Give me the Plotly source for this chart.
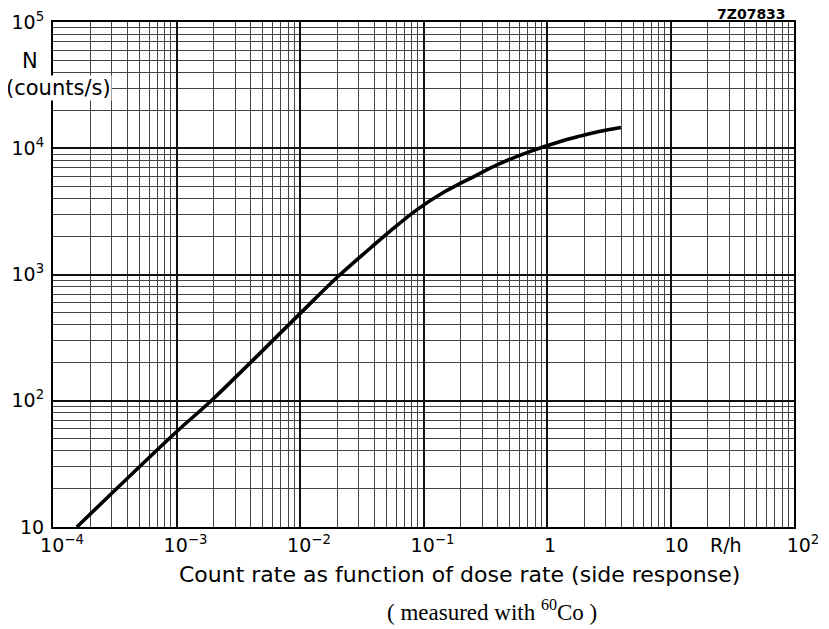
import plotly.graph_objects as go

# Curve (dose rate in R/h, count rate in counts/s)
dose_rate = [1.56e-4, 1.0e-3, 1.91e-3, 1.0e-2, 2.01e-2, 3.74e-2, 5.43e-2, 8.93e-2,
             0.147, 0.258, 0.398, 0.714, 1.32, 1.88, 2.64, 3.97]
count_rate = [10, 56.8, 100, 490, 955, 1629, 2228, 3281,
              4498, 5998, 7413, 9354, 11430, 12530, 13580, 14620]

x_tickvals = [1e-4, 1e-3, 1e-2, 1e-1, 1, 10, 100]
x_ticktext = ["10<sup>−4</sup>", "10<sup>−3</sup>", "10<sup>−2</sup>", "10<sup>−1</sup>",
              "1\u00a0\u00a0", "10\u00a0", "10<sup>2</sup>"]
y_tickvals = [10, 100, 1000, 10000, 100000]
y_ticktext = ["10", "10<sup>2</sup>", "10<sup>3</sup>", "10<sup>4</sup>", "10<sup>5</sup>"]

x_title = "Count rate as function of dose rate (side response)"
y_title_1 = "N"
y_title_2 = "(counts/s)"
unit_label = "R/h"
subtitle = "( measured with <sup>60</sup>Co )"
code_label = "7Z07833"

FONT = "DejaVu Sans"

fig = go.Figure()
fig.add_trace(go.Scatter(
    x=dose_rate, y=count_rate, mode="lines",
    line=dict(color="black", width=3.6, shape="spline", smoothing=1.0),
    showlegend=False, hoverinfo="skip"))

axis_common = dict(
    type="log", showgrid=True, gridcolor="#111111", gridwidth=1.8,
    showline=True, linecolor="black", linewidth=2, mirror=True,
    ticks="", zeroline=False, automargin=False,
    tickfont=dict(family=FONT, size=19, color="black"),
    minor=dict(dtick="D1", showgrid=True, gridcolor="#444444", gridwidth=1, ticks=""),
)

fig.update_xaxes(range=[-4, 2], tickvals=x_tickvals, ticktext=x_ticktext,
                 ticklabelshift=9, **axis_common)
fig.update_yaxes(range=[1, 5], tickvals=y_tickvals, ticktext=y_ticktext,
                 ticklabelstandoff=3, **axis_common)

fig.update_layout(
    width=821, height=621,
    margin=dict(l=45, r=35, t=14, b=102),
    paper_bgcolor="white", plot_bgcolor="white",
    font=dict(family=FONT, color="black"),
)

fig.add_annotation(x=1.449, y=0, xref="x", yref="paper", text=unit_label,
                   showarrow=False, xanchor="center", yanchor="middle", yshift=-18,
                   font=dict(family=FONT, size=19, color="black"))
fig.add_annotation(x=0.548, y=-0.095, xref="paper", yref="paper", text=x_title,
                   showarrow=False, xanchor="center", yanchor="middle",
                   font=dict(family=FONT, size=22, color="black"))
fig.add_annotation(x=0.592, y=-0.166, xref="paper", yref="paper", text=subtitle,
                   showarrow=False, xanchor="center", yanchor="middle",
                   font=dict(family="Liberation Serif", size=23, color="black"))
fig.add_annotation(x=-0.031, y=0.923, xref="paper", yref="paper", text=y_title_1,
                   showarrow=False, xanchor="center", yanchor="middle",
                   font=dict(family=FONT, size=21, color="black"))
fig.add_annotation(x=-0.0648, y=0.869, xref="paper", yref="paper", text=y_title_2,
                   showarrow=False, xanchor="left", yanchor="middle",
                   bgcolor="white", borderpad=0,
                   font=dict(family=FONT, size=21, color="black"))
fig.add_annotation(x=0.992, y=1.016, xref="paper", yref="paper", text="<b>" + code_label + "</b>",
                   showarrow=False, xanchor="right", yanchor="middle",
                   font=dict(family=FONT, size=14, color="black"))

fig.write_html("out.html")
